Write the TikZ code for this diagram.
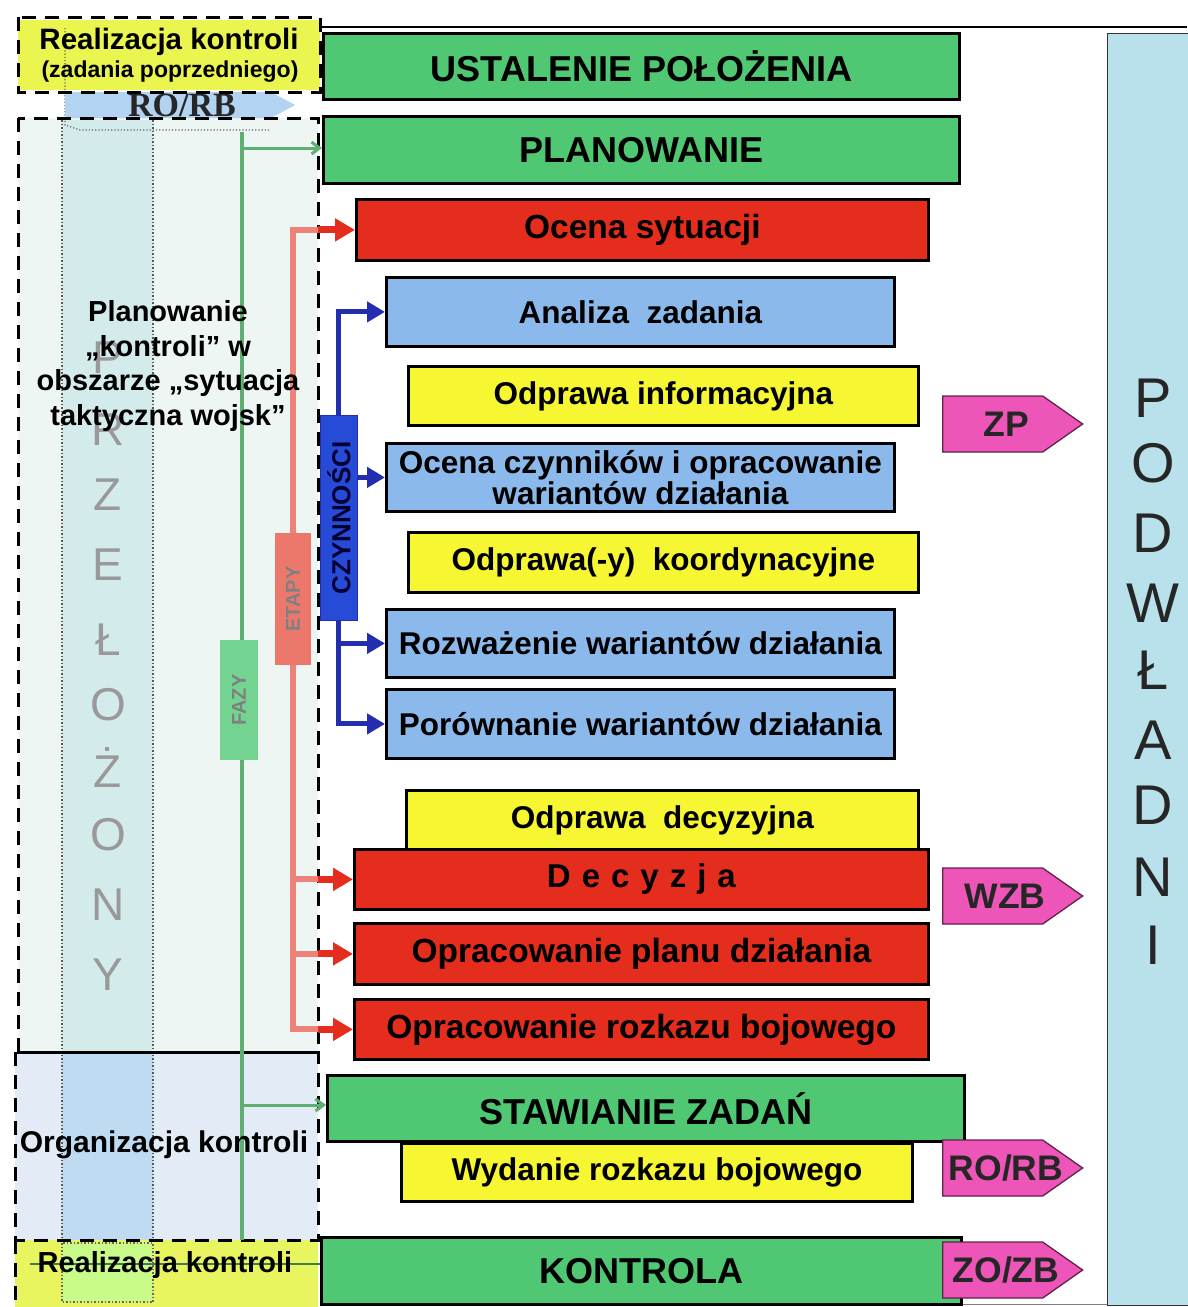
\documentclass[tikz,border=0pt]{standalone}
\usepackage{fontspec}
\setmainfont{Liberation Sans}
\newfontfamily\serifb{Liberation Serif}
\usetikzlibrary{shapes.symbols,arrows.meta,calc}
\definecolor{cgreen}{RGB}{80,200,115}
\definecolor{cred}{RGB}{228,45,28}
\definecolor{cblue}{RGB}{140,185,235}
\definecolor{cyel}{RGB}{246,246,50}
\definecolor{cpink}{RGB}{238,85,185}
\definecolor{cpod}{RGB}{185,225,235}
\definecolor{lyel}{RGB}{234,245,80}
\definecolor{lyel2}{RGB}{232,245,95}
\definecolor{planbg}{RGB}{238,246,243}
\definecolor{colbg}{RGB}{212,235,236}
\definecolor{orgbg}{RGB}{226,235,246}
\definecolor{orgcol}{RGB}{190,219,242}
\definecolor{cdblue}{RGB}{35,45,175}
\definecolor{czbox}{RGB}{40,75,215}
\definecolor{lred}{RGB}{236,130,120}
\definecolor{lgreen}{RGB}{95,175,115}
\definecolor{fazy}{RGB}{115,212,145}
\definecolor{etapy}{RGB}{236,120,108}
\definecolor{roblue}{RGB}{178,212,242}
\begin{document}
\begin{tikzpicture}[x=1pt,y=-1pt,
  bx/.style={draw=black, line width=2.8pt, inner sep=0pt, anchor=north west,
    font=\fontsize{31.5}{31}\selectfont\bfseries, text=black, align=center},
  capbx/.style={bx, font=\fontsize{36}{36}\selectfont\bfseries},
  redbx/.style={bx, fill=cred, font=\fontsize{33.5}{34}\selectfont\bfseries},
  tagshape/.style={signal, signal to=east, signal pointer angle=70, fill=cpink,
    draw=black!60!cpink, line width=1.3pt, minimum width=140pt, minimum height=56pt,
    inner sep=0pt, anchor=west},
  tagtext/.style={font=\fontsize{35.5}{36}\selectfont\bfseries, text=black!85},
  dframe/.style={dash pattern=on 14pt off 9pt, line width=3pt, black},
  redar/.style={-{Triangle[length=20pt,width=22pt]}, line width=7pt, draw=cred},
  bluear/.style={-{Triangle[length=18pt,width=20pt]}, line width=5pt, draw=cdblue},
  greenar/.style={-{Straight Barb[length=8pt,width=12pt]}, line width=3pt, draw=lgreen},
  lefttxt/.style={font=\fontsize{29}{34.5}\selectfont\bfseries, text=black, align=center},
  bigletter/.style={font=\fontsize{56}{56}\selectfont, text=black!85},
  ghost/.style={font=\fontsize{46}{46}\selectfont, text=black!40},
]
\useasboundingbox (0,0) rectangle (1187,1307);
\fill[white] (0,0) rectangle (1187,1307);

% ---------- left backgrounds ----------
\fill[lyel] (18,20) rectangle (320,90);
\fill[planbg] (18,118) rectangle (318,1052);
\fill[colbg] (62,120) rectangle (153,1052);
\fill[orgbg] (15,1052) rectangle (318,1240);
\fill[orgcol] (62,1052) rectangle (153,1240);
\fill[lyel2] (15,1240) rectangle (318,1307);
\draw[dotted, line width=1.5pt, black!60, fill=lyel!70!green!60] (62,1243) rectangle (153,1302);
\draw[dotted, line width=1.5pt, black!65] (62,120) -- (62,1243);
\draw[dotted, line width=1.5pt, black!65] (153,120) -- (153,1243);
\draw[dotted, line width=1.2pt, black!60] (65,28) -- (65,125) -- (80,130) -- (270,130);

% top RO/RB arrow
\node[signal, signal to=east, signal pointer angle=56, fill=roblue, draw=none,
  minimum width=230pt, minimum height=26pt, inner sep=0pt, anchor=west] (roarrow) at (65,105) {};
\node[font=\serifb\bfseries\fontsize{34}{34}\selectfont, text=black!85] (rotext) at (182,105) {RO/RB};

% ghost vertical word PRZEŁOŻONY
\foreach \l/\y [count=\i] in {P/358,R/430,Z/495,E/565,Ł/640,O/705,Ż/768,O/835,N/905,Y/975}
  \node[ghost] (prz\i) at (108,\y) {\l};

% dashed frames
\draw[dframe] (18,17) rectangle (320,92);
\draw[dframe] (18,118) rectangle (318,1052);
\draw[dframe] (15,1052) rectangle (318,1240);
\draw[dframe] (15,1240) -- (15,1307);

% top / bottom rules
\draw[line width=1.5pt] (320,27) -- (1187,27);
\draw[line width=1pt, black!50] (320,1304) -- (1107,1304);

% ---------- right column PODWŁADNI ----------
\node[draw=black!80, line width=1.2pt, fill=cpod, minimum width=84pt, minimum height=1272pt,
  anchor=north west, inner sep=0pt] (pod) at (1107,33) {};
\foreach \l/\y [count=\i] in {P/398,O/463,D/533,W/603,Ł/670,A/740,D/805,N/877,I/945}
  \node[bigletter] (pod\i) at (1153,\y) {\l};

% ---------- main boxes ----------
\node[capbx, fill=cgreen, minimum width=636pt, minimum height=66pt] (ust) at (322,32) {USTALENIE POŁOŻENIA};
\node[capbx, fill=cgreen, minimum width=636pt, minimum height=67pt] (plan) at (322,115) {PLANOWANIE};
\node[redbx, minimum width=572pt, minimum height=61pt] (ocena) at (355,198) {Ocena sytuacji};
\node[bx, fill=cblue, minimum width=508pt, minimum height=69pt] (anal) at (385,276) {Analiza\ \ zadania};
\node[bx, fill=cyel, minimum width=510pt, minimum height=59pt] (odinf) at (407,365) {Odprawa informacyjna};
\node[bx, fill=cblue, minimum width=508pt, minimum height=68pt] (ocz) at (385,442) {Ocena czynników i opracowanie\\wariantów działania};
\node[bx, fill=cyel, minimum width=510pt, minimum height=60pt] (odkoord) at (407,531) {Odprawa(-y)\ \ koordynacyjne};
\node[bx, fill=cblue, minimum width=508pt, minimum height=68pt] (rozw) at (385,608) {Rozważenie wariantów działania};
\node[bx, fill=cblue, minimum width=508pt, minimum height=69pt] (por) at (385,688) {Porównanie wariantów działania};
\node[bx, fill=cyel, minimum width=512pt, minimum height=59pt] (oddec) at (405,789) {Odprawa\ \ decyzyjna};
\node[redbx, font=\fontsize{33}{34}\selectfont\bfseries, minimum width=574pt, minimum height=60pt] (dec) at (353,848) {D\,\,e\,\,c\,\,y\,\,z\,\,j\,\,a};
\node[redbx, minimum width=574pt, minimum height=61pt] (opl) at (353,922) {Opracowanie planu działania};
\node[redbx, minimum width=574pt, minimum height=60pt] (orb) at (353,998) {Opracowanie rozkazu bojowego};
\node[capbx, fill=cgreen, minimum width=637pt, minimum height=66pt] (staw) at (326,1074) {STAWIANIE ZADAŃ};
\node[bx, fill=cyel, minimum width=511pt, minimum height=58pt] (wyd) at (400,1142) {Wydanie rozkazu bojowego};
\node[capbx, fill=cgreen, minimum width=640pt, minimum height=67pt] (kon) at (320,1236) {KONTROLA};

% ---------- tags ----------
\node[tagshape] (zp) at (942,424) {};
\node[tagtext] (zpt) at (1006,424) {ZP};
\node[tagshape] (wzb) at (942,896) {};
\node[tagtext] (wzbt) at (1005,896) {WZB};
\node[tagshape] (rorb) at (942,1168) {};
\node[tagtext] (rorbt) at (1006,1168) {RO/RB};
\node[tagshape] (zozb) at (942,1270) {};
\node[tagtext] (zozbt) at (1006,1270) {ZO/ZB};

% ---------- green FAZY ----------
\coordinate (gtop) at (242,132);
\coordinate (gbot) at (242,1240);
\draw[line width=4pt, lgreen] (gtop) -- (gbot);
\draw[greenar] (242,148) -- (plan.west |- 242,148);
\draw[greenar] (242,1105) -- (staw.west |- 242,1105);
\node[fill=fazy, minimum width=120pt, minimum height=38pt, inner sep=0pt,
  font=\fontsize{20}{20}\selectfont\bfseries, text=black!50, rotate=90] (fazy) at (239,700) {FAZY};

% ---------- red ETAPY ----------
\draw[line width=6pt, lred] (293,228) -- (293,1028);
\foreach \n in {ocena,dec,opl,orb}{
  \draw[line width=6pt, lred] (\n.west -| 290,0) -- (\n.west -| 318,0);
  \draw[redar] (\n.west -| 318,0) -- (\n.west);
}
\node[fill=etapy, minimum width=132pt, minimum height=36pt, inner sep=0pt,
  font=\fontsize{20}{20}\selectfont\bfseries, text=black!50, rotate=90] (etapy) at (293,599) {ETAPY};

% ---------- blue CZYNNOŚCI ----------
\draw[line width=5pt, cdblue] (anal.west -| 338,0) -- (por.west -| 338,0);
\draw[bluear] (anal.west -| 336,0) -- (anal.west);
\draw[bluear] (rozw.west -| 336,0) -- (rozw.west);
\draw[bluear] (por.west -| 336,0) -- (por.west);
\node[fill=czbox, draw=cdblue, line width=1pt, minimum width=205pt, minimum height=37pt, inner sep=0pt,
  font=\fontsize{26}{26}\selectfont\bfseries, text=black!80!blue, rotate=90] (czyn) at (339,518) {CZYNNOŚCI};
\draw[bluear] (czyn.south |- ocz.west) -- (ocz.west);

% ---------- left texts ----------
\draw[line width=1.2pt, lgreen!70!black] (30,1264) -- (kon.west |- 30,1264);
\node[lefttxt, font=\fontsize{29.5}{30}\selectfont\bfseries] (real1) at (169,42) {Realizacja kontroli};
\node[lefttxt, font=\fontsize{23}{24}\selectfont\bfseries] (real2) at (170,72) {(zadania poprzedniego)};
\node[lefttxt] (planl) at (168,366) {Planowanie\\„kontroli” w\\obszarze „sytuacja\\taktyczna wojsk”};
\node[lefttxt, font=\fontsize{30}{30}\selectfont\bfseries] (orgl) at (164,1145) {Organizacja kontroli};
\node[lefttxt, font=\fontsize{29}{30}\selectfont\bfseries] (real3) at (165,1265) {Realizacja kontroli};
\end{tikzpicture}
\end{document}
